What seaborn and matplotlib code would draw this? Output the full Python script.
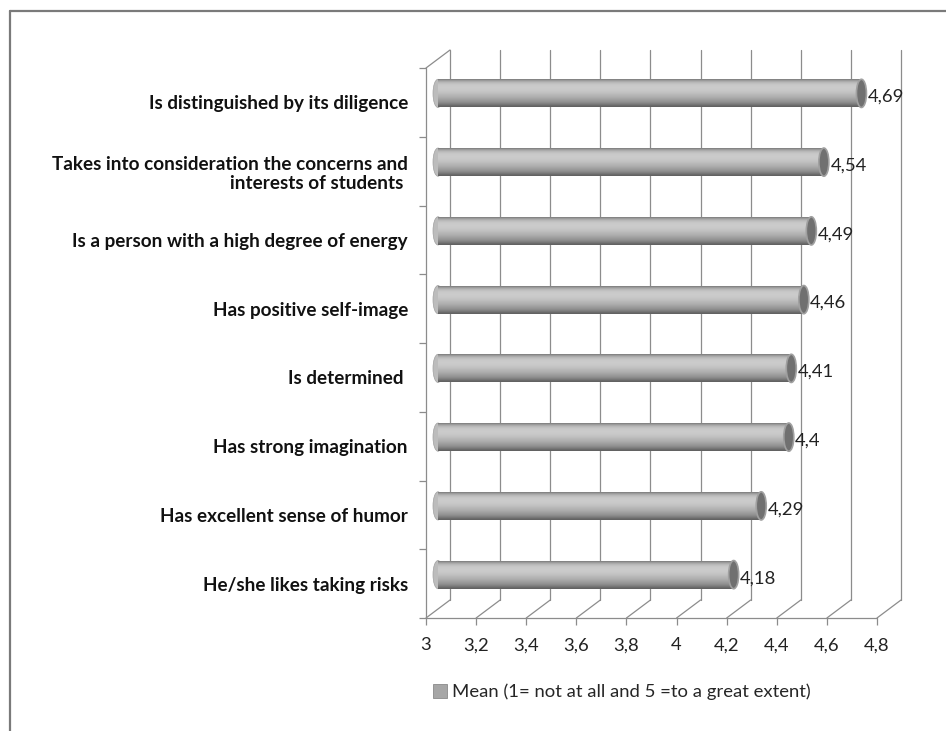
import numpy as np
import pandas as pd
import matplotlib
matplotlib.use("Agg")
import matplotlib.pyplot as plt
import matplotlib.transforms as mtrans
from matplotlib.patches import Ellipse, Patch
from matplotlib.lines import Line2D
import seaborn as sns

categories = [
    "Is distinguished by its diligence",
    "Takes into consideration the concerns and\ninterests of students ",
    "Is a person with a high degree of energy",
    "Has positive self-image",
    "Is determined ",
    "Has strong imagination",
    "Has excellent sense of humor",
    "He/she likes taking risks",
]
values = [4.69, 4.54, 4.49, 4.46, 4.41, 4.40, 4.29, 4.18]
value_labels = ["4,69", "4,54", "4,49", "4,46", "4,41", "4,4", "4,29", "4,18"]
xticks = [3.0, 3.2, 3.4, 3.6, 3.8, 4.0, 4.2, 4.4, 4.6, 4.8]
xtick_labels = ["3", "3,2", "3,4", "3,6", "3,8", "4", "4,2", "4,4", "4,6", "4,8"]
legend_label = "Mean (1= not at all and 5 =to a great extent)"

sns.set_theme(style="white")
plt.rcParams["font.family"] = ["Lato", "DejaVu Sans"]

W, H, DPI = 946, 731, 100
fig = plt.figure(figsize=(W / DPI, H / DPI), dpi=DPI)
# front plane of the 3D box, in pixels
x0p, x1p, y0p, y1p = 426, 877, 68, 618
ax = fig.add_axes([x0p / W, 1 - y1p / H, (x1p - x0p) / W, (y1p - y0p) / H])

df = pd.DataFrame({"cat": categories, "val": values})
sns.barplot(data=df, y="cat", x="val", orient="h", color="#a6a6a6",
            width=0.41, ax=ax, zorder=3)

ax.set_xlim(3.0, 4.8)
ax.set_ylim(len(categories) - 0.5, -0.5)
for s in ax.spines.values():
    s.set_visible(False)

GRID = "#8c8c8c"
dx_back, dy_back = 24, 18      # pixels to the back wall
dx_mid, dy_mid = 12, 9         # bars sit in the middle of the depth

def offset(dxp, dyp):
    return ax.transData + mtrans.ScaledTranslation(dxp / DPI, dyp / DPI, fig.dpi_scale_trans)

t_back = offset(dx_back, dy_back)
t_mid = offset(dx_mid, dy_mid)
ytop, ybot = -0.5, len(categories) - 0.5

# back wall vertical gridlines
for xv in xticks:
    ax.add_line(Line2D([xv, xv], [ytop, ybot], color=GRID, lw=0.9,
                       transform=t_back, clip_on=False, zorder=1))

def fig_line(p0, p1):
    fig.add_artist(Line2D([p0[0] / fig.bbox.width, p1[0] / fig.bbox.width],
                          [p0[1] / fig.bbox.height, p1[1] / fig.bbox.height],
                          transform=fig.transFigure, color=GRID, lw=0.9, zorder=1))

# floor diagonal lines (front -> back)
for xv in xticks:
    fig_line(ax.transData.transform((xv, ybot)), t_back.transform((xv, ybot)))
# left wall top diagonal
fig_line(ax.transData.transform((3.0, ytop)), t_back.transform((3.0, ytop)))

# front axes lines
ax.add_line(Line2D([3.0, 3.0], [ytop, ybot], color=GRID, lw=0.9, clip_on=False, zorder=2))
ax.add_line(Line2D([3.0, 4.8], [ybot, ybot], color=GRID, lw=0.9, clip_on=False, zorder=2))

# ticks
ax.set_xticks(xticks)
ax.set_xticklabels(xtick_labels, fontsize=13.3, color="#222222")
ax.tick_params(axis="x", which="major", direction="out", length=5, width=0.9,
               color=GRID, pad=9, bottom=True)
ax.set_yticks(range(len(categories)))
ax.set_yticklabels(categories, fontsize=13.6, fontweight="bold", color="#111111")
ax.tick_params(axis="y", which="major", length=0, pad=13)
ax.set_yticks(np.arange(-0.5, len(categories), 1.0), minor=True)
ax.tick_params(axis="y", which="minor", direction="out", length=5, width=0.9,
               color=GRID, left=True)
ax.set_xlabel("")
ax.set_ylabel("")

# cylinder shading
profile = np.array([0.45, 0.62, 0.72, 0.77, 0.79, 0.80, 0.79, 0.78, 0.76, 0.73,
                    0.70, 0.67, 0.63, 0.59, 0.54, 0.47, 0.38])
grad = np.repeat(profile[:, None], 2, axis=1)
ew = 10.0 / ((x1p - x0p) / 1.8)   # ellipse width in data units
for patch, v, lab in zip(list(ax.patches), values, value_labels):
    yc = patch.get_y() + patch.get_height() / 2
    h = patch.get_height()
    patch.set_x(3.0)
    patch.set_width(v - 3.0)
    patch.set_transform(t_mid)
    patch.set_clip_on(False)
    patch.set_edgecolor("none")
    im = ax.imshow(grad, cmap="gray", vmin=0, vmax=1, aspect="auto",
                   extent=(3.0, v, yc + h / 2, yc - h / 2), transform=t_mid,
                   interpolation="bicubic", zorder=4)
    im.set_clip_path(patch)
    # left cap (light) and right cap (dark)
    ax.add_patch(Ellipse((3.0, yc), ew, h, transform=t_mid, facecolor="#bcbcbc",
                         edgecolor="#a0a0a0", lw=0.5, zorder=3.5, clip_on=False))
    ax.add_patch(Ellipse((v, yc), ew, h, transform=t_mid, facecolor="#707070",
                         edgecolor="#a0a0a0", lw=1.2, zorder=5, clip_on=False))
    ax.text(v, yc, lab, transform=offset(18.5, 5.5), fontsize=13.3, color="#222222",
            va="center", ha="left", zorder=6)

ax.set_xlim(3.0, 4.8)
ax.set_ylim(len(categories) - 0.5, -0.5)

# legend
fig.legend(handles=[Patch(facecolor="#a6a6a6", edgecolor="#8a8a8a", lw=0.6)],
           labels=[legend_label], loc="center left",
           bbox_to_anchor=(426 / W, 1 - 692 / H), frameon=False, fontsize=13.3,
           handlelength=0.75, handleheight=0.75, handletextpad=0.25, borderaxespad=0)

# outer frame (top and left)
fig.add_artist(Line2D([9.5 / W, 1.0], [1 - 10.5 / H, 1 - 10.5 / H],
                      transform=fig.transFigure, color="#7a7a7a", lw=1.6))
fig.add_artist(Line2D([9.5 / W, 9.5 / W], [1 - 10.5 / H, 0.0],
                      transform=fig.transFigure, color="#7a7a7a", lw=1.6))

fig.savefig("out.png", dpi=DPI)
